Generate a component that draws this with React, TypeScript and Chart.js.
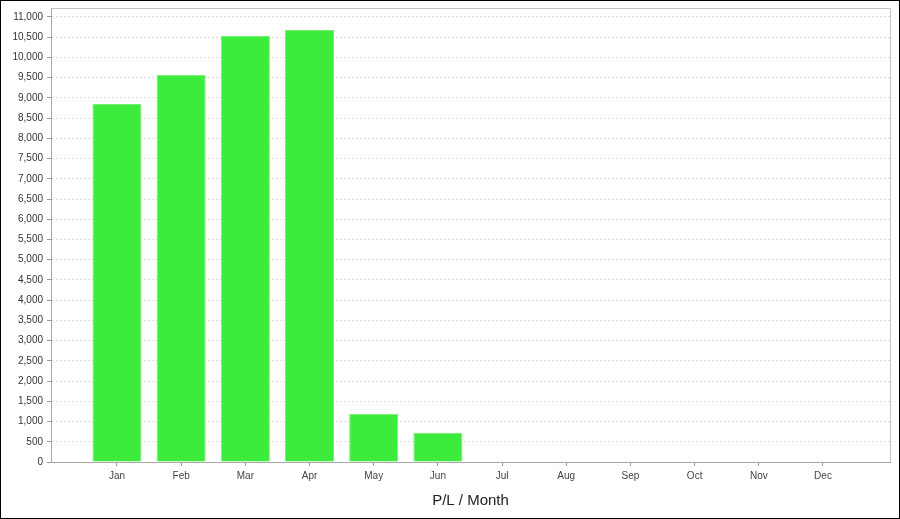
import React, { useEffect, useRef } from "react";
import { Chart, registerables } from "chart.js";

Chart.register(...registerables);

const months = ["Jan", "Feb", "Mar", "Apr", "May", "Jun", "Jul", "Aug", "Sep", "Oct", "Nov", "Dec"];
const profit = [8850, 9570, 10530, 10680, 1190, 720];
const yTickStep = 500;
const yTickMax = 11000;
const axisTitle = "P/L / Month";

const framePlugin = {
  id: "frame",
  afterDraw(chart: any) {
    const { ctx, chartArea } = chart;
    ctx.save();
    ctx.strokeStyle = "#c4c4c4";
    ctx.lineWidth = 1;
    ctx.setLineDash([]);
    const l = Math.round(chartArea.left) + 0.5;
    const t = Math.round(chartArea.top) + 0.5;
    const r = Math.round(chartArea.right) + 0.5;
    ctx.beginPath();
    ctx.moveTo(l, t);
    ctx.lineTo(r, t);
    ctx.lineTo(r, Math.round(chartArea.bottom));
    ctx.stroke();
    ctx.restore();
  },
};

export default function App() {
  const ref = useRef<HTMLCanvasElement | null>(null);
  useEffect(() => {
    document.body.style.margin = "0";
    const canvas = ref.current;
    if (!canvas) return;
    const font = "'Liberation Sans', Arial, sans-serif";
    const chart = new Chart(canvas, {
      type: "bar",
      data: {
        datasets: [
          {
            data: profit.map((v, i) => ({ x: i, y: v })),
            backgroundColor: "#3deb3d",
            borderColor: "#74f074",
            borderWidth: 1,
            categoryPercentage: 1,
            barPercentage: 0.765,
          },
        ],
      },
      options: {
        animation: false,
        responsive: false,
        maintainAspectRatio: false,
        layout: { padding: { left: 0, top: 7, right: 9, bottom: 0 } },
        plugins: { legend: { display: false }, tooltip: { enabled: false } },
        scales: {
          x: {
            type: "linear",
            offset: false,
            min: -1.028,
            max: 12.044,
            afterBuildTicks: (axis: any) => {
              axis.ticks = months.map((_, i) => ({ value: i }));
            },
            afterFit: (scale: any) => {
              scale.height = 56;
              scale.paddingLeft = 0;
              scale.paddingRight = 0;
            },
            grid: {
              offset: false,
              drawOnChartArea: false,
              drawTicks: true,
              tickLength: 4,
              tickColor: "#999",
              tickBorderDash: [],
            },
            border: { display: true, color: "#a8a8a8", width: 1 },
            ticks: {
              autoSkip: false,
              maxRotation: 0,
              padding: 4,
              color: "#444",
              font: { family: font, size: 10 },
              callback: (v: any) => months[v as number] ?? "",
            },
            title: {
              display: true,
              text: axisTitle,
              color: "#222",
              font: { family: font, size: 15 },
              padding: { top: 0, bottom: 8 },
            },
          },
          y: {
            min: 0,
            max: 11222,
            afterBuildTicks: (axis: any) => {
              const t: any[] = [];
              for (let v = 0; v <= yTickMax; v += yTickStep) t.push({ value: v });
              axis.ticks = t;
            },
            afterFit: (scale: any) => {
              scale.width = 50;
              scale.paddingTop = 0;
              scale.paddingBottom = 0;
            },
            grid: {
              color: "#dcdcdc",
              tickLength: 4,
              tickColor: "#999",
              tickBorderDash: [],
            },
            border: { display: true, color: "#a8a8a8", width: 1, dash: [2, 2] },
            ticks: {
              padding: 4,
              color: "#333",
              font: { family: font, size: 10 },
              callback: (v: any) => Number(v).toLocaleString("en-US"),
            },
          },
        },
      },
      plugins: [framePlugin],
    } as any);
    return () => chart.destroy();
  }, []);
  return (
    <div
      style={{
        width: 900,
        height: 519,
        border: "1px solid #000",
        boxSizing: "border-box",
        background: "#fff",
      }}
    >
      <canvas ref={ref} width={898} height={517} style={{ display: "block", width: 898, height: 517 }} />
    </div>
  );
}
